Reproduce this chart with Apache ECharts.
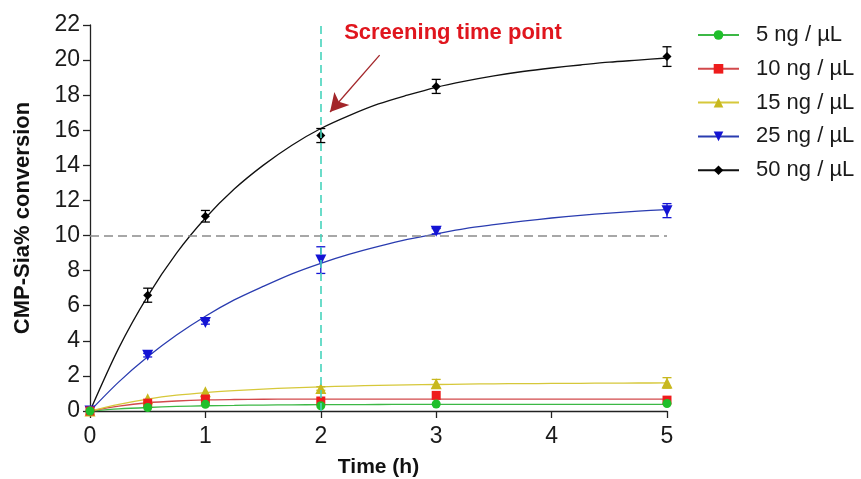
<!DOCTYPE html>
<html>
<head>
<meta charset="utf-8">
<script src="https://cdn.jsdelivr.net/npm/echarts@6/dist/echarts.min.js"></script>
<style>
html,body{margin:0;padding:0;background:#fff;}
#chart{width:861px;height:479px;}
</style>
</head>
<body>
<div id="chart"></div>
<script>
// ---- data ----
const seriesNames = ['5 ng / µL', '10 ng / µL', '15 ng / µL', '25 ng / µL', '50 ng / µL'];
const times = [0, 0.5, 1, 2, 3, 5];
const p5  = [0, 0.20, 0.38, 0.30, 0.40, 0.43];
const p10 = [0, 0.45, 0.68, 0.57, 0.89, 0.62];
const p15 = [0, 0.70, 1.10, 1.28, 1.55, 1.60];
const p25 = [0, 3.18, 5.05, 8.60, 10.25, 11.42];
const p50 = [0, 6.60, 11.10, 15.70, 18.50, 20.20];
const e5  = [0, 0, 0, 0, 0, 0];
const e10 = [0, 0, 0, 0, 0, 0];
const e15 = [0, 0, 0, 0.10, 0.25, 0.30];
const e25 = [0, 0.10, 0.10, 0.76, 0.15, 0.40];
const e50 = [0, 0.40, 0.33, 0.40, 0.40, 0.56];
// fitted curves, read at these times
const curveTimes = [0, 0.25, 0.5, 0.75, 1, 1.25, 1.5, 1.75, 2, 2.25, 2.5, 2.75, 3, 3.25, 3.5, 3.75, 4, 4.25, 4.5, 4.75, 5];
const c5  = [0, 0.12, 0.20, 0.26, 0.30, 0.32, 0.34, 0.35, 0.36, 0.365, 0.37, 0.375, 0.38, 0.38, 0.38, 0.38, 0.38, 0.38, 0.38, 0.38, 0.38];
const c10 = [0, 0.28, 0.47, 0.57, 0.63, 0.655, 0.67, 0.675, 0.68, 0.68, 0.68, 0.68, 0.68, 0.68, 0.68, 0.68, 0.68, 0.68, 0.68, 0.68, 0.68];
const c15 = [0, 0.38, 0.68, 0.90, 1.05, 1.16, 1.25, 1.32, 1.38, 1.42, 1.46, 1.49, 1.51, 1.53, 1.55, 1.56, 1.57, 1.58, 1.59, 1.595, 1.60];
const c25 = [0, 1.66, 3.09, 4.33, 5.40, 6.33, 7.10, 7.82, 8.42, 8.94, 9.38, 9.78, 10.10, 10.40, 10.62, 10.82, 11.00, 11.15, 11.28, 11.39, 11.48];
const c50 = [0, 3.60, 6.55, 9.00, 11.00, 12.65, 14.00, 15.15, 16.10, 16.85, 17.50, 18.00, 18.45, 18.80, 19.10, 19.35, 19.55, 19.72, 19.88, 20.00, 20.12];
const yTicks = [0, 2, 4, 6, 8, 10, 12, 14, 16, 18, 20, 22];
const xTicks = [0, 1, 2, 3, 4, 5];
const thresholdY = 10;
const screeningX = 2;
const annotationText = 'Screening time point';
const annotationAnchor = [3.145, 21.54];
const arrowFrom = [2.51, 20.28];
const arrowTo = [2.08, 17.04];

// ---- styles ----
const FONT = '"Liberation Sans", Arial, sans-serif';
const points = [p5, p10, p15, p25, p50];
const errors = [e5, e10, e15, e25, e50];
const curves = [c5, c10, c15, c25, c50];
const markerColors = ['#1fbf2a', '#ee1c1c', '#c8b81e', '#1414d4', '#000000'];
const lineColors = ['#3cb846', '#d2494b', '#d6c83a', '#2a3cb0', '#111111'];
const symbols = ['circle', 'rect', 'triangle', 'triangle', 'diamond'];
const symbolRot = [0, 0, 0, 180, 0];
const symbolSizes = [9, 9, 11, 11, 9];

const series = [];
// curves (first, so the legend takes line + symbol from them)
for (let i = 0; i < 5; i++) {
  series.push({
    name: seriesNames[i], type: 'line', smooth: 0.3,
    data: curveTimes.map((t, k) => [t, curves[i][k]]),
    showSymbol: false, symbol: symbols[i], symbolRotate: symbolRot[i],
    itemStyle: { color: markerColors[i] },
    lineStyle: { color: lineColors[i], width: 1.3 },
    z: 2, silent: true
  });
}
// error bars
for (let i = 0; i < 5; i++) {
  const col = markerColors[i];
  series.push({
    name: seriesNames[i], type: 'custom', z: 3,
    encode: { x: 0, y: 1 },
    data: times.map((t, k) => [t, points[i][k], errors[i][k]]),
    renderItem: function (params, api) {
      const x = api.value(0), y = api.value(1), e = api.value(2);
      if (!e) return null;
      const top = api.coord([x, y + e]);
      const bot = api.coord([x, y - e]);
      const hw = 4.5;
      const st = { stroke: col, lineWidth: 1.3 };
      return { type: 'group', children: [
        { type: 'line', shape: { x1: top[0], y1: top[1], x2: bot[0], y2: bot[1] }, style: st },
        { type: 'line', shape: { x1: top[0] - hw, y1: top[1], x2: top[0] + hw, y2: top[1] }, style: st },
        { type: 'line', shape: { x1: bot[0] - hw, y1: bot[1], x2: bot[0] + hw, y2: bot[1] }, style: st }
      ] };
    }
  });
}
// markers (5 ng drawn on top)
for (let i = 4; i >= 0; i--) {
  series.push({
    name: seriesNames[i], type: 'scatter', z: 4,
    data: times.map((t, k) => [t, points[i][k]]),
    symbol: symbols[i], symbolRotate: symbolRot[i], symbolSize: symbolSizes[i],
    itemStyle: { color: markerColors[i], opacity: 1 }
  });
}
// reference lines + arrow
series.push({
  name: 'refs', type: 'line', data: [], silent: true, z: 1,
  markLine: {
    silent: true, animation: false,
    label: { show: false },
    data: [
      [{ coord: [0, thresholdY], symbol: 'none', lineStyle: { color: '#8a8a8a', type: [9, 5], width: 1.6 } },
       { coord: [xTicks[xTicks.length - 1], thresholdY], symbol: 'none' }],
      [{ coord: [screeningX, yTicks[0]], symbol: 'none', lineStyle: { color: '#46d4bc', type: [8, 5], width: 1.6 } },
       { coord: [screeningX, yTicks[yTicks.length - 1]], symbol: 'none' }],
      [{ coord: arrowFrom, symbol: 'none', lineStyle: { color: '#a3262a', type: 'solid', width: 1.3 } },
       { coord: arrowTo, symbol: 'arrow', symbolSize: [15, 18], itemStyle: { color: '#a31818' } }]
    ]
  }
});

const chart = echarts.init(document.getElementById('chart'), null, { renderer: 'canvas' });
chart.setOption({
  animation: false,
  backgroundColor: '#ffffff',
  textStyle: { fontFamily: FONT },
  grid: { left: 90, right: 194, top: 25, bottom: 68, containLabel: false, outerBoundsMode: 'none' },
  legend: {
    orient: 'vertical', left: 692, top: 19,
    data: seriesNames,
    itemWidth: 41, itemHeight: 12, itemGap: 11.8,
    textStyle: { fontSize: 22, color: '#1a1a1a', fontFamily: FONT, padding: [0, 0, 0, 12] },
    selectedMode: false
  },
  xAxis: {
    type: 'value', min: xTicks[0], max: xTicks[xTicks.length - 1], interval: 1,
    name: 'Time (h)', nameLocation: 'middle', nameGap: 46,
    nameTextStyle: { fontSize: 21, fontWeight: 'bold', color: '#111', fontFamily: FONT },
    axisLine: { show: true, lineStyle: { color: '#222', width: 1.3 } },
    axisTick: { show: true, length: 7, inside: false, lineStyle: { color: '#222', width: 1.3 } },
    axisLabel: { fontSize: 23, color: '#1a1a1a', margin: 14, fontFamily: FONT },
    splitLine: { show: false }
  },
  yAxis: {
    type: 'value', min: yTicks[0], max: yTicks[yTicks.length - 1], interval: 2,
    name: 'CMP-Sia% conversion', nameLocation: 'middle', nameGap: 56, nameRotate: 90,
    nameTextStyle: { fontSize: 22, fontWeight: 'bold', color: '#111', fontFamily: FONT },
    axisLine: { show: true, lineStyle: { color: '#222', width: 1.3 } },
    axisTick: { show: true, length: 7, inside: false, lineStyle: { color: '#222', width: 1.3 } },
    axisLabel: { fontSize: 23, color: '#1a1a1a', margin: 10, fontFamily: FONT },
    splitLine: { show: false }
  },
  series: series
});

const anchorPx = chart.convertToPixel({ gridIndex: 0 }, annotationAnchor);
chart.setOption({
  graphic: [{
    type: 'text', x: anchorPx[0], y: anchorPx[1], z: 10,
    style: {
      text: annotationText, fill: '#e0161e',
      font: 'bold 22px ' + FONT,
      textAlign: 'center', textVerticalAlign: 'middle'
    }
  }]
});
</script>
</body>
</html>
